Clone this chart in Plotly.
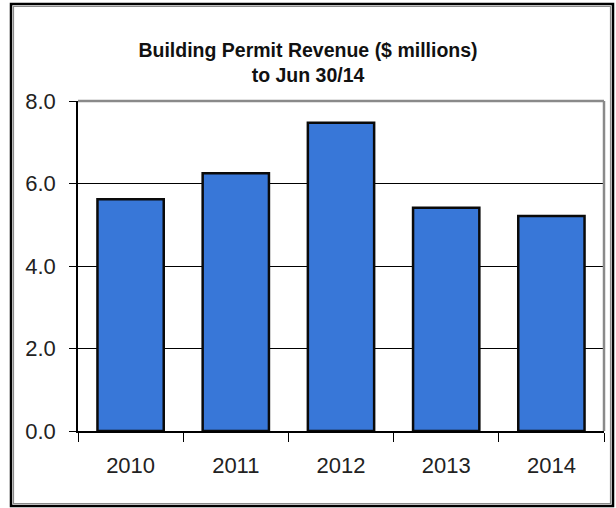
import plotly.graph_objects as go

years = ['2010', '2011', '2012', '2013', '2014']
revenue = [5.62, 6.25, 7.47, 5.41, 5.21]
y_ticks = [0, 2, 4, 6, 8]
y_labels = ['0.0', '2.0', '4.0', '6.0', '8.0']

fnt = "Liberation Sans, Arial, sans-serif"

fig = go.Figure()
fig.add_trace(go.Bar(x=years, y=revenue, width=0.63,
                     marker=dict(color='#3877d8', line=dict(color='#0a0a0a', width=2.5))))

fig.update_layout(
    width=616, height=508,
    margin=dict(l=78, r=12, t=101, b=77),
    paper_bgcolor='white', plot_bgcolor='white',
    showlegend=False,
    title=dict(text="<b>Building Permit Revenue ($ millions)<br>to Jun 30/14</b>",
               x=0.5, xanchor='center', y=0.888, yanchor='middle',
               font=dict(family=fnt, size=19.5, color='#111')),
    font=dict(family=fnt, color='#222'),
)
fig.update_xaxes(showline=True, linecolor='black', linewidth=1.5,
                 ticks='outside', ticklen=9, tickcolor='black', tickson='boundaries',
                 ticklabelstandoff=14,
                 tickfont=dict(size=22), showgrid=False)
fig.update_yaxes(range=[0, 8], tickvals=y_ticks, ticktext=y_labels,
                 showline=True, linecolor='black', linewidth=1.5,
                 ticks='outside', ticklen=7, tickcolor='black',
                 ticklabelstandoff=9,
                 showgrid=True, gridcolor='black', gridwidth=1.2,
                 tickfont=dict(size=22), zeroline=False)

# gray frame on top/right of plot area
fig.add_shape(type='line', xref='paper', yref='paper', x0=0, x1=1, y0=1, y1=1,
              line=dict(color='#8a8a8a', width=2.5))
fig.add_shape(type='line', xref='paper', yref='paper', x0=1, x1=1, y0=0, y1=1,
              line=dict(color='#8a8a8a', width=2.5))
# outer border: black line with a thin gray line just inside it
for off, col, w in ((0, 'black', 2.5), (2.5, '#8a8a8a', 1.2)):
    fig.add_shape(type='rect', xref='paper', yref='paper',
                  x0=(11 + off - 78) / 526, x1=(613 - off - 78) / 526,
                  y0=(431 - 506 + off) / 330, y1=(431 - 4 - off) / 330,
                  line=dict(color=col, width=w), layer='below')

fig.write_html("out.html", config={'displayModeBar': False},
               post_script="document.body.style.margin='0';")
